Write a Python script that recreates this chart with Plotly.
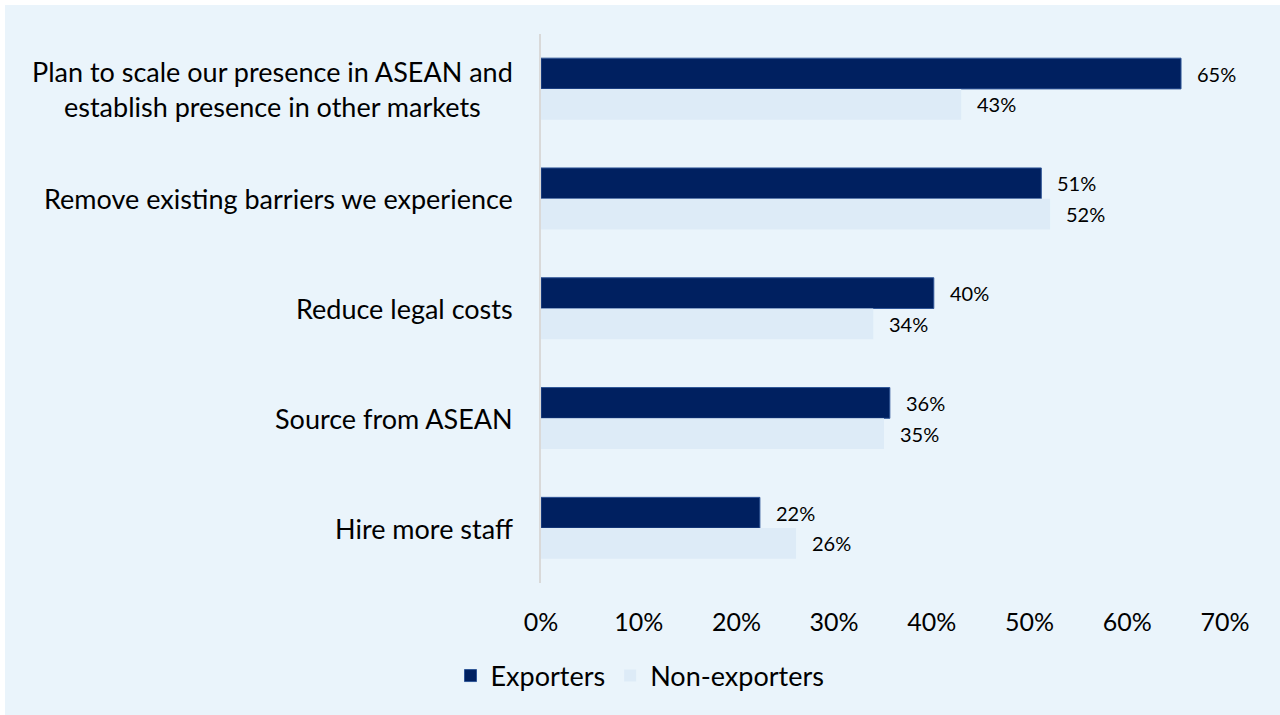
import plotly.graph_objects as go

categories = [
    "Plan to scale our presence in ASEAN and<br>establish presence in other markets",
    "Remove existing barriers we experience",
    "Reduce legal costs",
    "Source from ASEAN",
    "Hire more staff",
]
exporters = [65.5, 51.2, 40.2, 35.7, 22.4]
non_exporters = [43.0, 52.1, 34.0, 35.1, 26.1]
exporters_labels = ["65%", "51%", "40%", "36%", "22%"]
non_exporters_labels = ["43%", "52%", "34%", "35%", "26%"]
x_ticks = [0, 10, 20, 30, 40, 50, 60, 70]
x_tick_labels = ["0%", "10%", "20%", "30%", "40%", "50%", "60%", "70%"]

FONT = "Lato"
DARK = "#002060"
LIGHT = "#DDEBF7"
BG = "#EAF4FB"

W, H = 1280, 715
L, R, T, B = 541, 55, 34, 132
pw, ph = W - L - R, H - T - B

idx = list(range(len(categories)))

fig = go.Figure()
fig.add_trace(go.Bar(
    name="Exporters", y=idx, x=exporters, orientation="h",
    marker=dict(color=DARK, line=dict(color="#2F5597", width=1)),
))
fig.add_trace(go.Bar(
    name="Non-exporters", y=idx, x=non_exporters, orientation="h",
    marker=dict(color=LIGHT, line=dict(width=0)),
))

bargap = 0.44
bw = (1 - bargap) / 2
annotations = []
for i, (v, t) in enumerate(zip(exporters, exporters_labels)):
    annotations.append(dict(x=v, y=i - bw / 2, xref="x", yref="y", text=t,
                            showarrow=False, xanchor="left", yanchor="middle",
                            xshift=14, font=dict(family=FONT, size=20, color="black")))
for i, (v, t) in enumerate(zip(non_exporters, non_exporters_labels)):
    annotations.append(dict(x=v, y=i + bw / 2, xref="x", yref="y", text=t,
                            showarrow=False, xanchor="left", yanchor="middle",
                            xshift=14, font=dict(family=FONT, size=20, color="black")))
for i, c in enumerate(categories):
    annotations.append(dict(x=0, y=i, xref="paper", yref="y", text=c,
                            showarrow=False, xanchor="right", yanchor="middle",
                            align="center", xshift=-26,
                            font=dict(family=FONT, size=27, color="black")))

fig.update_layout(
    width=W, height=H,
    margin=dict(l=L, r=R, t=T, b=B),
    paper_bgcolor="white",
    plot_bgcolor="rgba(0,0,0,0)",
    barmode="group", bargap=bargap, bargroupgap=0,
    font=dict(family=FONT, size=25, color="black"),
    showlegend=True,
    legend=dict(orientation="h", x=(640 - L) / pw, xanchor="center",
                y=(T + ph - 676) / ph, yanchor="middle",
                font=dict(family=FONT, size=27, color="black"),
                bgcolor="rgba(0,0,0,0)", itemwidth=30, traceorder="normal"),
    annotations=annotations,
    shapes=[dict(type="rect", xref="paper", yref="paper", layer="below",
                 x0=(5 - L) / pw, x1=(W - L) / pw,
                 y0=(T + ph - H) / ph, y1=(T + ph - 5) / ph,
                 fillcolor=BG, line=dict(width=0))],
)
fig.update_xaxes(range=[0, 70], tickvals=x_ticks, ticktext=x_tick_labels,
                 showgrid=False, zeroline=False, showline=False,
                 tickfont=dict(family=FONT, size=25, color="black"),
                 ticks="", ticklabelstandoff=22, fixedrange=True)
fig.update_yaxes(range=[len(categories) - 0.5, -0.5], showticklabels=False,
                 showgrid=False, zeroline=False, showline=True,
                 linecolor="#D9D9D9", linewidth=2, ticks="", fixedrange=True)

fig.write_html("out.html", config={"displayModeBar": False})
